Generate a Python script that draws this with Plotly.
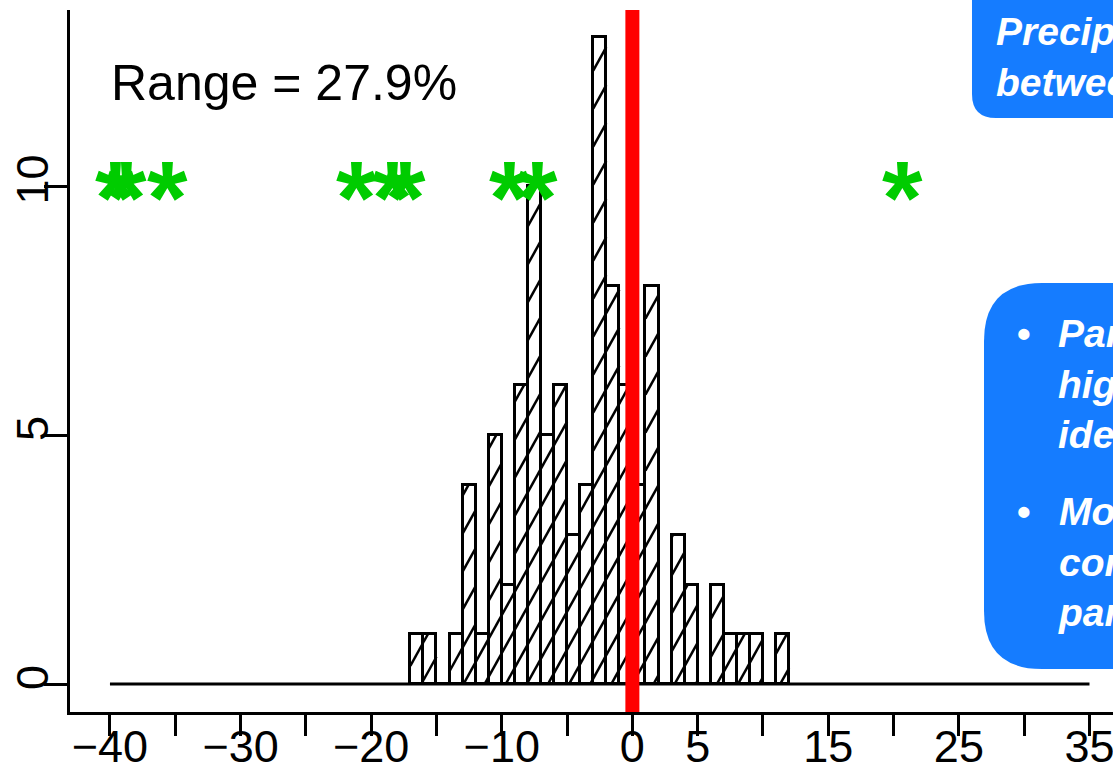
import plotly.graph_objects as go

# Histogram of ensemble precipitation change (%), unit-width bins
bin_left = [-17, -16, -15, -14, -13, -12, -11, -10, -9, -8, -7, -6, -5, -4, -3,
            -2, -1, 0, 1, 2, 3, 4, 5, 6, 7, 8, 9, 10, 11]
bin_count = [1, 1, 0, 1, 4, 1, 5, 2, 6, 10, 5, 6, 3, 4, 13,
             8, 6, 4, 8, 0, 3, 2, 0, 2, 1, 1, 1, 0, 1]
bin_width = 1

# Individual model results plotted as stars
model_change = [-39.6, -38.7, -35.6, -21.1, -18.4, -17.4, -9.4, -7.3, 20.7]
model_level = 10

# Zero-count baseline extent and reference line
baseline_x = [-40, 35]
reference_x = 0

x_ticks = list(range(-40, 40, 5))
x_labels = ["\u221240", "", "\u221230", "", "\u221220", "", "\u221210", "",
            "0", "5", "", "15", "", "25", "", "35"]
y_ticks = [0, 5, 10]
y_labels = ["0", "5", "10"]

range_text = "Range = 27.9%"

W, H = 1113, 767
ML, MR, MT, MB = 70, 0, 10, 55
PW, PH = W - ML - MR, H - MT - MB
X_RANGE = [-43.06, 36.8]
Y_RANGE = [-0.56, 13.54]


def px(x):
    return (x - ML) / PW


def py(y):
    return (H - MB - y) / PH


def rounded_box(x0, y0, x1, y1, r):
    """SVG path of a rounded rectangle, pixel corners converted to paper units."""
    pts = [
        ("M", [(x0 + r, y0)]),
        ("L", [(x1 - r, y0)]),
        ("Q", [(x1, y0), (x1, y0 + r)]),
        ("L", [(x1, y1 - r)]),
        ("Q", [(x1, y1), (x1 - r, y1)]),
        ("L", [(x0 + r, y1)]),
        ("Q", [(x0, y1), (x0, y1 - r)]),
        ("L", [(x0, y0 + r)]),
        ("Q", [(x0, y0), (x0 + r, y0)]),
    ]
    parts = []
    for cmd, coords in pts:
        parts.append(cmd + " ".join(f"{px(a):.5f},{py(b):.5f}" for a, b in coords))
    return " ".join(parts) + " Z"


# Shading lines for the bars: a family of parallel lines clipped to each bar
x_unit_px = PW / (X_RANGE[1] - X_RANGE[0])
y_unit_px = PH / (Y_RANGE[1] - Y_RANGE[0])
hatch_slope = 1.8 * x_unit_px / y_unit_px      # steep "/" lines
hatch_step = 38 / y_unit_px                     # vertical spacing between lines


def hatch_segments(lefts, counts, width):
    hx, hy = [], []
    for left, c in zip(lefts, counts):
        if c <= 0:
            continue
        right = left + width
        b_lo = 0 - hatch_slope * right
        b_hi = c - hatch_slope * left
        k0 = int(b_lo // hatch_step)
        k1 = int(b_hi // hatch_step) + 1
        for k in range(k0, k1 + 1):
            b = k * hatch_step
            xa = max(left, (0 - b) / hatch_slope)
            xb = min(right, (c - b) / hatch_slope)
            if xb - xa > 1e-6:
                hx += [xa, xb, None]
                hy += [hatch_slope * xa + b, hatch_slope * xb + b, None]
    return hx, hy


fig = go.Figure()

fig.add_trace(go.Scatter(
    x=baseline_x, y=[0, 0], mode="lines",
    line=dict(color="black", width=3), hoverinfo="skip"))

fig.add_trace(go.Bar(
    x=[b + bin_width / 2 for b in bin_left], y=bin_count, width=bin_width,
    marker=dict(color="white", line=dict(color="black", width=3))))

hx, hy = hatch_segments(bin_left, bin_count, bin_width)
fig.add_trace(go.Scatter(x=hx, y=hy, mode="lines",
                         line=dict(color="black", width=2.5), hoverinfo="skip"))

BLUE = "#157CFF"
TXT = dict(family="Liberation Sans, Arial, sans-serif", size=39, color="white")

shapes = [
    dict(type="line", xref="x", yref="paper", x0=reference_x, x1=reference_x,
         y0=0, y1=1, line=dict(color="#FF0000", width=14), layer="above"),
    dict(type="path", xref="paper", yref="paper",
         path=rounded_box(972, -40, 1200, 118, 24),
         fillcolor=BLUE, line=dict(width=0), layer="above"),
    dict(type="path", xref="paper", yref="paper",
         path=rounded_box(984, 283, 1200, 669, 58),
         fillcolor=BLUE, line=dict(width=0), layer="above"),
]

annotations = [
    dict(text=range_text, xref="paper", yref="paper", x=px(109), y=py(53),
         xanchor="left", yanchor="top", showarrow=False,
         font=dict(family="Liberation Sans, Arial, sans-serif", size=50, color="black")),
    dict(text="<b><i>Precipitation change differs<br>between parameter sets</i></b>",
         xref="paper", yref="paper", x=px(994), y=py(8), xanchor="left", yanchor="top",
         align="left", showarrow=False, font=TXT),
    dict(text="<b>\u2022</b>", xref="paper", yref="paper", x=px(1015), y=py(310),
         xanchor="left", yanchor="top", showarrow=False, font=TXT),
    dict(text="<b><i>Parameters with<br>high influence are<br>identified</i></b>",
         xref="paper", yref="paper", x=px(1056), y=py(310), xanchor="left", yanchor="top",
         align="left", showarrow=False, font=TXT),
    dict(text="<b>\u2022</b>", xref="paper", yref="paper", x=px(1015), y=py(488),
         xanchor="left", yanchor="top", showarrow=False, font=TXT),
    dict(text="<b><i>Model spread is<br>controlled by a few<br>parameters</i></b>",
         xref="paper", yref="paper", x=px(1056), y=py(488), xanchor="left", yanchor="top",
         align="left", showarrow=False, font=TXT),
]

for m in model_change:
    annotations.append(dict(
        text="<b>*</b>", x=m, y=model_level, xref="x", yref="y", showarrow=False,
        xanchor="center", yanchor="middle", yshift=-12,
        font=dict(family="Liberation Sans, Arial, sans-serif", size=104, color="#00CC00")))

tick_font = dict(family="Liberation Sans, Arial, sans-serif", size=45, color="black")

fig.update_layout(
    width=W, height=H,
    margin=dict(l=ML, r=MR, t=MT, b=MB, pad=0, autoexpand=False),
    paper_bgcolor="white", plot_bgcolor="white",
    showlegend=False, bargap=0,
    shapes=shapes, annotations=annotations,
    xaxis=dict(range=X_RANGE, tickmode="array", tickvals=x_ticks, ticktext=x_labels,
               ticks="outside", ticklen=21, tickwidth=3, tickcolor="black",
               showline=True, linewidth=3, linecolor="black", showgrid=False,
               zeroline=False, tickfont=tick_font, tickangle=0, automargin=False,
               ticklabeloverflow="allow", ticklabelstandoff=-28),
    yaxis=dict(range=Y_RANGE, tickmode="array", tickvals=y_ticks, ticktext=y_labels,
               ticks="outside", ticklen=23, tickwidth=3, tickcolor="black",
               showline=True, linewidth=3, linecolor="black", showgrid=False,
               zeroline=False, tickfont=tick_font, tickangle=-90, automargin=False,
               ticklabeloverflow="allow", ticklabelstandoff=-22),
)

fig.write_html("out.html", config={"displayModeBar": False})
